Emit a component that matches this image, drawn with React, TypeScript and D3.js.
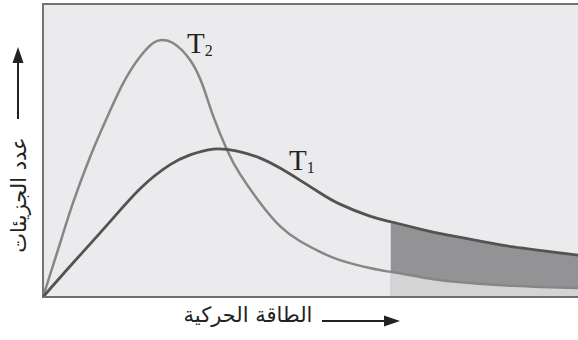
import React, { useEffect, useRef } from 'react';
import * as d3 from 'd3';

// Energy values (arbitrary units) shared by the sampled points of each curve
const t1Energy = [0, 0.56, 1.2, 1.81, 2.37, 2.75, 3.18, 3.63, 4.06, 4.43, 4.8, 5.18, 5.55, 6.11, 6.52, 7.05, 7.55, 8.17, 8.79, 10];
const t1Count = [0, 1.16, 2.46, 3.69, 4.51, 4.85, 5.05, 4.98, 4.74, 4.4, 3.99, 3.55, 3.17, 2.76, 2.56, 2.32, 2.12, 1.91, 1.71, 1.43];

const t2Energy = [0, 0.32, 0.56, 0.88, 1.2, 1.5, 1.81, 2.06, 2.22, 2.43, 2.75, 2.99, 3.18, 3.44, 3.68, 4.06, 4.43, 4.8, 5.18, 5.55, 6.11, 6.52, 7.05, 7.55, 8.79, 10];
const t2Count = [0, 1.84, 3.21, 4.78, 6.14, 7.3, 8.19, 8.67, 8.77, 8.67, 8.09, 7.2, 6.18, 5.02, 4.2, 3.21, 2.42, 1.91, 1.54, 1.26, 0.99, 0.85, 0.68, 0.55, 0.38, 0.31];

// energy threshold where the shaded region begins
const threshold = 6.5;

const yLabel = 'عدد الجزيئات';
const xLabel = 'الطاقة الحركية';

const App = () => {
    const svgRef = useRef<SVGSVGElement>(null);

    useEffect(() => {
        const width = 578;
        const height = 340;
        const svg = d3.select(svgRef.current);
        svg.selectAll('*').remove();
        svg.attr('width', width).attr('height', height);

        const left = 43, top = 4, bottom = 297;

        const x = d3.scaleLinear().domain([0, 10]).range([left, 578]);
        const y = d3.scaleLinear().domain([0, 10]).range([bottom, top]);

        const t1 = t1Energy.map((e, i) => ({ e, c: t1Count[i] }));
        const t2 = t2Energy.map((e, i) => ({ e, c: t2Count[i] }));

        // frame / plot background
        svg.append('rect')
            .attr('x', left)
            .attr('y', top)
            .attr('width', width + 20 - left)
            .attr('height', bottom - top)
            .attr('fill', '#ebebed')
            .attr('stroke', '#737373')
            .attr('stroke-width', 2);

        const defs = svg.append('defs');
        defs.append('clipPath')
            .attr('id', 'tail')
            .append('rect')
            .attr('x', x(threshold))
            .attr('y', top)
            .attr('width', width - x(threshold))
            .attr('height', bottom - top - 1);

        const curve = d3.curveNatural;

        const area = d3.area<{ e: number; c: number }>()
            .x(d => x(d.e))
            .y0(y(0))
            .y1(d => y(d.c))
            .curve(curve);

        const line = d3.line<{ e: number; c: number }>()
            .x(d => x(d.e))
            .y(d => y(d.c))
            .curve(curve);

        // shaded tail: dark under T1, light under T2
        svg.append('path')
            .attr('d', area(t1))
            .attr('fill', '#939395')
            .attr('clip-path', 'url(#tail)');
        svg.append('path')
            .attr('d', area(t2))
            .attr('fill', '#d4d4d6')
            .attr('clip-path', 'url(#tail)');

        svg.append('path')
            .attr('d', line(t2))
            .attr('fill', 'none')
            .attr('stroke', '#868686')
            .attr('stroke-width', 2.5);

        svg.append('path')
            .attr('d', line(t1))
            .attr('fill', 'none')
            .attr('stroke', '#535353')
            .attr('stroke-width', 2.8);

        // bottom axis line drawn again on top
        svg.append('line')
            .attr('x1', left).attr('x2', width)
            .attr('y1', bottom).attr('y2', bottom)
            .attr('stroke', '#6e6e6e')
            .attr('stroke-width', 2);

        // curve labels
        const addT = (tx: number, ty: number, sub: string) => {
            const t = svg.append('text')
                .attr('x', tx)
                .attr('y', ty)
                .attr('font-family', '"Liberation Serif", serif')
                .attr('font-size', 29)
                .attr('fill', '#222');
            t.append('tspan').text('T');
            t.append('tspan')
                .attr('font-size', 16)
                .attr('dy', 3)
                .text(sub);
        };
        addT(187, 53, '2');
        addT(289, 170, '1');

        // y axis label + arrow
        svg.append('text')
            .attr('transform', 'translate(26,195) rotate(-90)')
            .attr('text-anchor', 'middle')
            .attr('font-family', '"DejaVu Sans", sans-serif')
            .attr('font-size', 21)
            .attr('fill', '#222')
            .text(yLabel);

        svg.append('line')
            .attr('x1', 18).attr('x2', 18)
            .attr('y1', 119).attr('y2', 60)
            .attr('stroke', '#222')
            .attr('stroke-width', 2);
        svg.append('path')
            .attr('d', 'M18,47 L12.5,63 L23.5,63 Z')
            .attr('fill', '#222');

        // x axis label + arrow
        svg.append('text')
            .attr('x', 248)
            .attr('y', 322)
            .attr('text-anchor', 'middle')
            .attr('font-family', '"DejaVu Sans", sans-serif')
            .attr('font-size', 21)
            .attr('fill', '#222')
            .text(xLabel);

        svg.append('line')
            .attr('x1', 322).attr('x2', 388)
            .attr('y1', 321).attr('y2', 321)
            .attr('stroke', '#222')
            .attr('stroke-width', 2);
        svg.append('path')
            .attr('d', 'M400,321 L384,315.5 L384,326.5 Z')
            .attr('fill', '#222');
    }, []);

    return (
        <svg ref={svgRef} style={{ position: 'absolute', left: 0, top: 0, background: '#fff' }}></svg>
    );
};

export default App;
